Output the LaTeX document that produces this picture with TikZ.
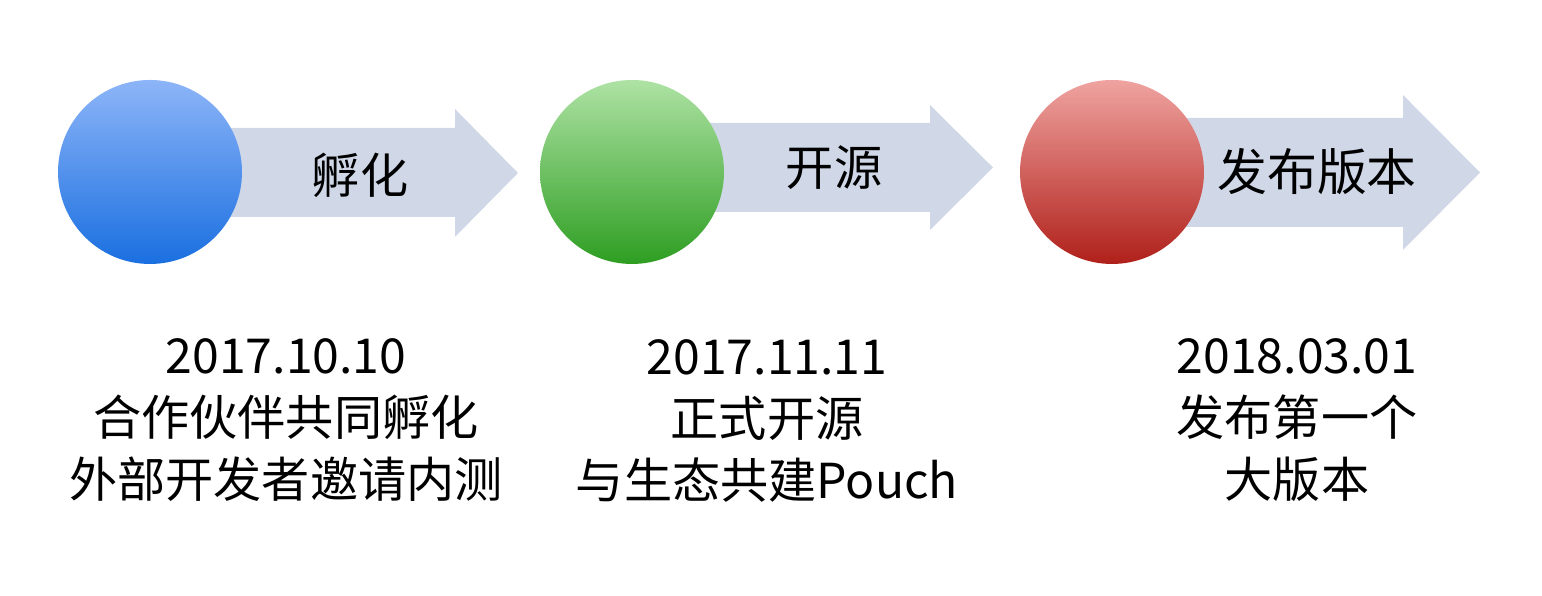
\documentclass[tikz,border=0pt]{standalone}
\usepackage{fontspec}
\setmainfont{Noto Sans CJK SC}
\usepackage{tikz}
\usetikzlibrary{positioning}
\usepackage{xcolor}

\definecolor{arrowgray}{RGB}{208,216,232}
\definecolor{bluetop}{RGB}{141,181,248}
\definecolor{bluemid}{RGB}{94,155,239}
\definecolor{bluebot}{RGB}{26,111,224}
\definecolor{greentop}{RGB}{174,226,164}
\definecolor{greenmid}{RGB}{121,201,107}
\definecolor{greenbot}{RGB}{46,158,34}
\definecolor{redtop}{RGB}{239,163,160}
\definecolor{redmid}{RGB}{218,106,102}
\definecolor{redbot}{RGB}{176,32,26}

\begin{document}
\begin{tikzpicture}[
      arrow shape/.style={fill=arrowgray},
      ball/.style={circle,inner sep=0,minimum size=1.84cm},
      step label/.style={font=\fontsize{13.7}{16}\selectfont,inner sep=0},
      info node/.style={align=center,inner sep=0,
          font=\fontsize{13.7}{17.6}\selectfont}]

    \useasboundingbox (0,0) rectangle (15.42,5.96);

    % arrows first, balls go over their tails
    \fill[arrow shape] (1.50,4.68) -- (4.55,4.68) -- (4.55,4.87) -- (5.18,4.23)
        -- (4.55,3.59) -- (4.55,3.79) -- (1.50,3.79) -- cycle;
    \fill[arrow shape] (6.32,4.73) -- (9.30,4.73) -- (9.30,4.91) -- (9.93,4.285)
        -- (9.30,3.66) -- (9.30,3.84) -- (6.32,3.84) -- cycle;
    \fill[arrow shape] (11.12,4.78) -- (14.03,4.78) -- (14.03,5.01) -- (14.80,4.235)
        -- (14.03,3.46) -- (14.03,3.69) -- (11.12,3.69) -- cycle;

    \node[ball,top color=bluetop,middle color=bluemid,bottom color=bluebot]
        (incub) at (1.50,4.24) {};
    \node[ball,top color=greentop,middle color=greenmid,bottom color=greenbot]
        (open) at (6.32,4.24) {};
    \node[ball,top color=redtop,middle color=redmid,bottom color=redbot]
        (release) at (11.12,4.24) {};

    \node[step label] (incubl) at (3.60,4.21) {孵化};
    \node[step label] (openl) at (8.34,4.28) {开源};
    \node[step label,font=\fontsize{14.2}{16}\selectfont] (releasel) at (13.17,4.24) {发布版本};

    \node[info node] (incubi) at (2.86,1.76)
        {2017.10.10\\合作伙伴共同孵化\\外部开发者邀请内测};
    \node[info node] (openi) at (7.67,1.75)
        {2017.11.11\\正式开源\\与生态共建Pouch};
    \node[info node] (releasei) at (12.97,1.76)
        {2018.03.01\\发布第一个\\大版本};

  \end{tikzpicture}
\end{document}
